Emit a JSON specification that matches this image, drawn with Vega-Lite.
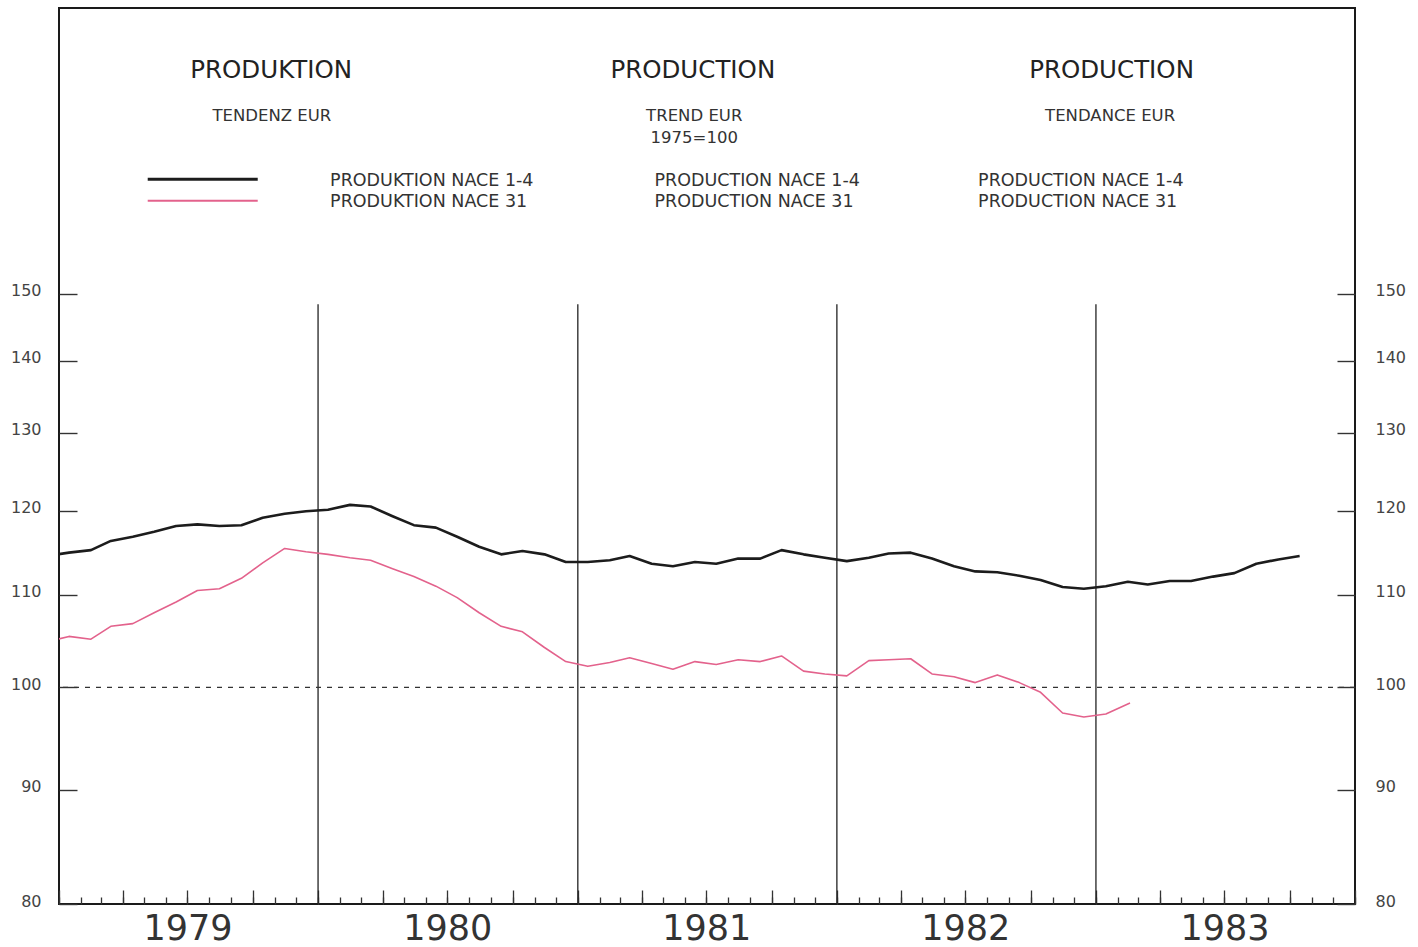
{
  "$schema": "https://vega.github.io/schema/vega-lite/v6.json",
  "width": 1296,
  "height": 896,
  "autosize": {"type": "none"},
  "padding": {"left": 59, "top": 8, "right": 63, "bottom": 43},
  "background": "white",
  "datasets": {
    "series": [
      {"date": "1978-12-15", "series": "NACE 1-4", "value": 114.5},
      {"date": "1979-01-15", "series": "NACE 1-4", "value": 114.9},
      {"date": "1979-02-15", "series": "NACE 1-4", "value": 115.2},
      {"date": "1979-03-15", "series": "NACE 1-4", "value": 116.3},
      {"date": "1979-04-15", "series": "NACE 1-4", "value": 116.8},
      {"date": "1979-05-15", "series": "NACE 1-4", "value": 117.4},
      {"date": "1979-06-15", "series": "NACE 1-4", "value": 118.1},
      {"date": "1979-07-15", "series": "NACE 1-4", "value": 118.3},
      {"date": "1979-08-15", "series": "NACE 1-4", "value": 118.1},
      {"date": "1979-09-15", "series": "NACE 1-4", "value": 118.2},
      {"date": "1979-10-15", "series": "NACE 1-4", "value": 119.1},
      {"date": "1979-11-15", "series": "NACE 1-4", "value": 119.6},
      {"date": "1979-12-15", "series": "NACE 1-4", "value": 119.9},
      {"date": "1980-01-15", "series": "NACE 1-4", "value": 120.1},
      {"date": "1980-02-15", "series": "NACE 1-4", "value": 120.7},
      {"date": "1980-03-15", "series": "NACE 1-4", "value": 120.5},
      {"date": "1980-04-15", "series": "NACE 1-4", "value": 119.3},
      {"date": "1980-05-15", "series": "NACE 1-4", "value": 118.2},
      {"date": "1980-06-15", "series": "NACE 1-4", "value": 117.9},
      {"date": "1980-07-15", "series": "NACE 1-4", "value": 116.8},
      {"date": "1980-08-15", "series": "NACE 1-4", "value": 115.6},
      {"date": "1980-09-15", "series": "NACE 1-4", "value": 114.7},
      {"date": "1980-10-15", "series": "NACE 1-4", "value": 115.1},
      {"date": "1980-11-15", "series": "NACE 1-4", "value": 114.7},
      {"date": "1980-12-15", "series": "NACE 1-4", "value": 113.8},
      {"date": "1981-01-15", "series": "NACE 1-4", "value": 113.8},
      {"date": "1981-02-15", "series": "NACE 1-4", "value": 114.0},
      {"date": "1981-03-15", "series": "NACE 1-4", "value": 114.5},
      {"date": "1981-04-15", "series": "NACE 1-4", "value": 113.6},
      {"date": "1981-05-15", "series": "NACE 1-4", "value": 113.3},
      {"date": "1981-06-15", "series": "NACE 1-4", "value": 113.8},
      {"date": "1981-07-15", "series": "NACE 1-4", "value": 113.6},
      {"date": "1981-08-15", "series": "NACE 1-4", "value": 114.2},
      {"date": "1981-09-15", "series": "NACE 1-4", "value": 114.2},
      {"date": "1981-10-15", "series": "NACE 1-4", "value": 115.2},
      {"date": "1981-11-15", "series": "NACE 1-4", "value": 114.7},
      {"date": "1981-12-15", "series": "NACE 1-4", "value": 114.3},
      {"date": "1982-01-15", "series": "NACE 1-4", "value": 113.9},
      {"date": "1982-02-15", "series": "NACE 1-4", "value": 114.3},
      {"date": "1982-03-15", "series": "NACE 1-4", "value": 114.8},
      {"date": "1982-04-15", "series": "NACE 1-4", "value": 114.9},
      {"date": "1982-05-15", "series": "NACE 1-4", "value": 114.2},
      {"date": "1982-06-15", "series": "NACE 1-4", "value": 113.3},
      {"date": "1982-07-15", "series": "NACE 1-4", "value": 112.7},
      {"date": "1982-08-15", "series": "NACE 1-4", "value": 112.6},
      {"date": "1982-09-15", "series": "NACE 1-4", "value": 112.2},
      {"date": "1982-10-15", "series": "NACE 1-4", "value": 111.7},
      {"date": "1982-11-15", "series": "NACE 1-4", "value": 110.9},
      {"date": "1982-12-15", "series": "NACE 1-4", "value": 110.7},
      {"date": "1983-01-15", "series": "NACE 1-4", "value": 111.0},
      {"date": "1983-02-15", "series": "NACE 1-4", "value": 111.5},
      {"date": "1983-03-15", "series": "NACE 1-4", "value": 111.2},
      {"date": "1983-04-15", "series": "NACE 1-4", "value": 111.6},
      {"date": "1983-05-15", "series": "NACE 1-4", "value": 111.6},
      {"date": "1983-06-15", "series": "NACE 1-4", "value": 112.1},
      {"date": "1983-07-15", "series": "NACE 1-4", "value": 112.5},
      {"date": "1983-08-15", "series": "NACE 1-4", "value": 113.6},
      {"date": "1983-09-15", "series": "NACE 1-4", "value": 114.1},
      {"date": "1983-10-15", "series": "NACE 1-4", "value": 114.5},
      {"date": "1978-12-15", "series": "NACE 31", "value": 104.8},
      {"date": "1979-01-15", "series": "NACE 31", "value": 105.4},
      {"date": "1979-02-15", "series": "NACE 31", "value": 105.1},
      {"date": "1979-03-15", "series": "NACE 31", "value": 106.5},
      {"date": "1979-04-15", "series": "NACE 31", "value": 106.8},
      {"date": "1979-05-15", "series": "NACE 31", "value": 108.0},
      {"date": "1979-06-15", "series": "NACE 31", "value": 109.2},
      {"date": "1979-07-15", "series": "NACE 31", "value": 110.5},
      {"date": "1979-08-15", "series": "NACE 31", "value": 110.7},
      {"date": "1979-09-15", "series": "NACE 31", "value": 111.9},
      {"date": "1979-10-15", "series": "NACE 31", "value": 113.7},
      {"date": "1979-11-15", "series": "NACE 31", "value": 115.4},
      {"date": "1979-12-15", "series": "NACE 31", "value": 115.0},
      {"date": "1980-01-15", "series": "NACE 31", "value": 114.7},
      {"date": "1980-02-15", "series": "NACE 31", "value": 114.3},
      {"date": "1980-03-15", "series": "NACE 31", "value": 114.0},
      {"date": "1980-04-15", "series": "NACE 31", "value": 113.0},
      {"date": "1980-05-15", "series": "NACE 31", "value": 112.1},
      {"date": "1980-06-15", "series": "NACE 31", "value": 111.0},
      {"date": "1980-07-15", "series": "NACE 31", "value": 109.7},
      {"date": "1980-08-15", "series": "NACE 31", "value": 108.0},
      {"date": "1980-09-15", "series": "NACE 31", "value": 106.5},
      {"date": "1980-10-15", "series": "NACE 31", "value": 105.9},
      {"date": "1980-11-15", "series": "NACE 31", "value": 104.2},
      {"date": "1980-12-15", "series": "NACE 31", "value": 102.7},
      {"date": "1981-01-15", "series": "NACE 31", "value": 102.2},
      {"date": "1981-02-15", "series": "NACE 31", "value": 102.6},
      {"date": "1981-03-15", "series": "NACE 31", "value": 103.1},
      {"date": "1981-04-15", "series": "NACE 31", "value": 102.5},
      {"date": "1981-05-15", "series": "NACE 31", "value": 101.9},
      {"date": "1981-06-15", "series": "NACE 31", "value": 102.7},
      {"date": "1981-07-15", "series": "NACE 31", "value": 102.4},
      {"date": "1981-08-15", "series": "NACE 31", "value": 102.9},
      {"date": "1981-09-15", "series": "NACE 31", "value": 102.7},
      {"date": "1981-10-15", "series": "NACE 31", "value": 103.3},
      {"date": "1981-11-15", "series": "NACE 31", "value": 101.7},
      {"date": "1981-12-15", "series": "NACE 31", "value": 101.4},
      {"date": "1982-01-15", "series": "NACE 31", "value": 101.2},
      {"date": "1982-02-15", "series": "NACE 31", "value": 102.8},
      {"date": "1982-03-15", "series": "NACE 31", "value": 102.9},
      {"date": "1982-04-15", "series": "NACE 31", "value": 103.0},
      {"date": "1982-05-15", "series": "NACE 31", "value": 101.4},
      {"date": "1982-06-15", "series": "NACE 31", "value": 101.1},
      {"date": "1982-07-15", "series": "NACE 31", "value": 100.5},
      {"date": "1982-08-15", "series": "NACE 31", "value": 101.3},
      {"date": "1982-09-15", "series": "NACE 31", "value": 100.5},
      {"date": "1982-10-15", "series": "NACE 31", "value": 99.5},
      {"date": "1982-11-15", "series": "NACE 31", "value": 97.4},
      {"date": "1982-12-15", "series": "NACE 31", "value": 97.0},
      {"date": "1983-01-15", "series": "NACE 31", "value": 97.3},
      {"date": "1983-02-18", "series": "NACE 31", "value": 98.4}
    ],
    "years": [
      {"date": "1980-01-01"},
      {"date": "1981-01-01"},
      {"date": "1982-01-01"},
      {"date": "1983-01-01"}
    ]
  },
  "resolve": {"axis": {"y": "independent", "x": "independent"}},
  "layer": [
    {
      "data": {"name": "years"},
      "mark": {"type": "rule", "color": "#222222", "strokeWidth": 1.3},
      "encoding": {
        "x": {
          "field": "date",
          "type": "temporal",
          "axis": {
            "title": null,
            "orient": "bottom",
            "domain": false,
            "grid": false,
            "labels": false,
            "tickCount": {"interval": "month", "step": 3},
            "tickSize": -14,
            "tickColor": "#333333",
            "tickWidth": 1.3
          }
        },
        "y": {"datum": 80, "type": "quantitative", "axis": null},
        "y2": {"datum": 148.4}
      }
    },
    {
      "data": {"values": [{}]},
      "mark": {"type": "rule", "color": "#333333", "strokeWidth": 1.3, "strokeDash": [5, 6]},
      "encoding": {
        "y": {"datum": 100, "type": "quantitative", "axis": null}
      }
    },
    {
      "data": {"name": "series"},
      "transform": [{"filter": "datum.series === 'NACE 1-4'"}],
      "mark": {"type": "line", "clip": true, "color": "#1c1c1c", "strokeWidth": 2.6, "strokeJoin": "round"},
      "encoding": {
        "x": {
          "field": "date",
          "type": "temporal",
          "scale": {"type": "time", "domain": [{"year": 1979, "month": 1, "date": 1}, {"year": 1984, "month": 1, "date": 1}], "nice": false},
          "axis": {
            "title": null,
            "orient": "bottom",
            "domain": false,
            "grid": false,
            "tickCount": {"interval": "month", "step": 1},
            "tickSize": -7,
            "tickColor": "#333333",
            "tickWidth": 1.3,
            "labelExpr": "month(datum.value) === 6 ? timeFormat(datum.value, '%Y') : ''",
            "labelPadding": 42,
            "labelBaseline": "alphabetic",
            "labelFontSize": 35,
            "labelFont": "DejaVu Sans",
            "labelColor": "#333333",
            "labelOverlap": false,
            "labelFlush": false,
            "labelBound": false
          }
        },
        "y": {
          "field": "value",
          "type": "quantitative",
          "scale": {"type": "log", "domain": [80, 201.4], "nice": false, "zero": false},
          "axis": {
            "title": null,
            "orient": "left",
            "values": [80, 90, 100, 110, 120, 130, 140, 150],
            "domain": false,
            "grid": false,
            "tickSize": -18,
            "tickColor": "#333333",
            "tickWidth": 1.4,
            "labelPadding": 36,
            "labelFontSize": 16,
            "labelFont": "DejaVu Sans",
            "labelColor": "#444444",
            "labelOffset": -3,
            "labelOverlap": false,
            "labelFlush": false,
            "labelBound": false
          }
        }
      }
    },
    {
      "data": {"name": "series"},
      "transform": [{"filter": "datum.series === 'NACE 31'"}],
      "mark": {"type": "line", "clip": true, "color": "#e3628c", "strokeWidth": 1.6, "strokeJoin": "round"},
      "encoding": {
        "x": {"field": "date", "type": "temporal", "axis": null},
        "y": {
          "field": "value",
          "type": "quantitative",
          "scale": {"type": "log", "domain": [80, 201.4], "nice": false, "zero": false},
          "axis": {
            "title": null,
            "orient": "right",
            "values": [80, 90, 100, 110, 120, 130, 140, 150],
            "domain": false,
            "grid": false,
            "tickSize": -18,
            "tickColor": "#333333",
            "tickWidth": 1.4,
            "labelPadding": 38,
            "labelFontSize": 16,
            "labelFont": "DejaVu Sans",
            "labelColor": "#444444",
            "labelOffset": -3,
            "labelOverlap": false,
            "labelFlush": false,
            "labelBound": false
          }
        }
      }
    },
    {
      "data": {"values": [{}]},
      "mark": {"type": "rule", "color": "#1c1c1c", "strokeWidth": 3},
      "encoding": {
        "x": {"datum": {"year": 1979, "month": 5, "date": 6}, "type": "temporal", "axis": null},
        "x2": {"datum": {"year": 1979, "month": 10, "date": 8}},
        "y": {"datum": 168.8, "type": "quantitative", "axis": null}
      }
    },
    {
      "data": {"values": [{}]},
      "mark": {"type": "rule", "color": "#e3628c", "strokeWidth": 2},
      "encoding": {
        "x": {"datum": {"year": 1979, "month": 5, "date": 6}, "type": "temporal", "axis": null},
        "x2": {"datum": {"year": 1979, "month": 10, "date": 8}},
        "y": {"datum": 165.1, "type": "quantitative", "axis": null}
      }
    },
    {
      "data": {"values": [{}]},
      "mark": {"type": "text", "text": "PRODUKTION", "font": "DejaVu Sans", "fontSize": 24.5, "color": "#222222", "align": "center", "baseline": "alphabetic"},
      "encoding": {
        "x": {"datum": {"year": 1979, "month": 10, "date": 27}, "type": "temporal", "axis": null},
        "y": {"datum": 187.4, "type": "quantitative", "axis": null}
      }
    },
    {
      "data": {"values": [{}]},
      "mark": {"type": "text", "text": "PRODUCTION", "font": "DejaVu Sans", "fontSize": 24.5, "color": "#222222", "align": "center", "baseline": "alphabetic"},
      "encoding": {
        "x": {"datum": {"year": 1981, "month": 6, "date": 12}, "type": "temporal", "axis": null},
        "y": {"datum": 187.4, "type": "quantitative", "axis": null}
      }
    },
    {
      "data": {"values": [{}]},
      "mark": {"type": "text", "text": "PRODUCTION", "font": "DejaVu Sans", "fontSize": 24.5, "color": "#222222", "align": "center", "baseline": "alphabetic"},
      "encoding": {
        "x": {"datum": {"year": 1983, "month": 1, "date": 23}, "type": "temporal", "axis": null},
        "y": {"datum": 187.4, "type": "quantitative", "axis": null}
      }
    },
    {
      "data": {"values": [{}]},
      "mark": {"type": "text", "text": "TENDENZ EUR", "font": "DejaVu Sans", "fontSize": 16.5, "color": "#333333", "align": "center", "baseline": "alphabetic"},
      "encoding": {
        "x": {"datum": {"year": 1979, "month": 10, "date": 28}, "type": "temporal", "axis": null},
        "y": {"datum": 179.3, "type": "quantitative", "axis": null}
      }
    },
    {
      "data": {"values": [{}]},
      "mark": {"type": "text", "text": ["TREND EUR", "1975=100"], "lineHeight": 22, "font": "DejaVu Sans", "fontSize": 16.5, "color": "#333333", "align": "center", "baseline": "alphabetic"},
      "encoding": {
        "x": {"datum": {"year": 1981, "month": 6, "date": 14}, "type": "temporal", "axis": null},
        "y": {"datum": 179.3, "type": "quantitative", "axis": null}
      }
    },
    {
      "data": {"values": [{}]},
      "mark": {"type": "text", "text": "TENDANCE EUR", "font": "DejaVu Sans", "fontSize": 16.5, "color": "#333333", "align": "center", "baseline": "alphabetic"},
      "encoding": {
        "x": {"datum": {"year": 1983, "month": 1, "date": 21}, "type": "temporal", "axis": null},
        "y": {"datum": 179.3, "type": "quantitative", "axis": null}
      }
    },
    {
      "data": {"values": [{}]},
      "mark": {"type": "text", "text": ["PRODUKTION NACE 1-4", "PRODUKTION NACE 31"], "lineHeight": 21, "font": "DejaVu Sans", "fontSize": 17.5, "color": "#333333", "align": "left", "baseline": "alphabetic"},
      "encoding": {
        "x": {"datum": {"year": 1980, "month": 1, "date": 18}, "type": "temporal", "axis": null},
        "y": {"datum": 167.7, "type": "quantitative", "axis": null}
      }
    },
    {
      "data": {"values": [{}]},
      "mark": {"type": "text", "text": ["PRODUCTION NACE 1-4", "PRODUCTION NACE 31"], "lineHeight": 21, "font": "DejaVu Sans", "fontSize": 17.5, "color": "#333333", "align": "left", "baseline": "alphabetic"},
      "encoding": {
        "x": {"datum": {"year": 1981, "month": 4, "date": 19}, "type": "temporal", "axis": null},
        "y": {"datum": 167.7, "type": "quantitative", "axis": null}
      }
    },
    {
      "data": {"values": [{}]},
      "mark": {"type": "text", "text": ["PRODUCTION NACE 1-4", "PRODUCTION NACE 31"], "lineHeight": 21, "font": "DejaVu Sans", "fontSize": 17.5, "color": "#333333", "align": "left", "baseline": "alphabetic"},
      "encoding": {
        "x": {"datum": {"year": 1982, "month": 7, "date": 19}, "type": "temporal", "axis": null},
        "y": {"datum": 167.7, "type": "quantitative", "axis": null}
      }
    }
  ],
  "config": {
    "view": {"stroke": "#1a1a1a", "strokeWidth": 2, "fill": "white"},
    "font": "DejaVu Sans"
  }
}
